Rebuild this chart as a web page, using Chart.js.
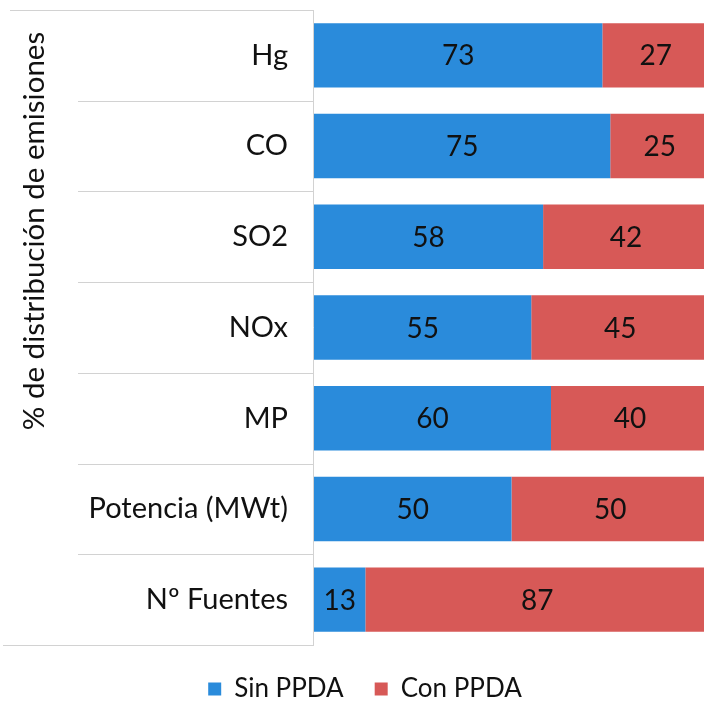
<!DOCTYPE html>
<html>
<head>
<meta charset="utf-8">
<script src="https://cdn.jsdelivr.net/npm/chart.js@4.4.1/dist/chart.umd.min.js"></script>
<style>
    html, body { margin: 0; padding: 0; background: #ffffff; overflow: hidden; }
    #wrap { width: 730px; height: 712px; }
</style>
</head>
<body>
<div id="wrap"><canvas id="chart" width="730" height="712"></canvas></div>
<script>
// 카테고리와 시리즈 값
const categories = ['Hg', 'CO', 'SO2', 'NOx', 'MP', 'Potencia (MWt)', 'Nº Fuentes'];
const sinPPDA = [73, 75, 58, 55, 60, 50, 13];
const conPPDA = [27, 25, 42, 45, 40, 50, 87];
const seriesNames = ['Sin PPDA', 'Con PPDA'];
const axisTitle = '% de distribución de emisiones';

const FONT = 'Lato, "Open Sans", sans-serif';

// 막대 안에 값을 적는 플러그인
const barLabels = {
    id: 'barLabels',
    afterDatasetsDraw(chart) {
        const ctx = chart.ctx;
        ctx.save();
        ctx.font = '28px ' + FONT;
        ctx.fillStyle = '#111111';
        ctx.textAlign = 'center';
        ctx.textBaseline = 'middle';
        chart.data.datasets.forEach((ds, i) => {
            chart.getDatasetMeta(i).data.forEach((bar, j) => {
                const cx = (bar.x + bar.base) / 2;
                ctx.fillText(String(ds.data[j]), cx, bar.y + 1);
            });
        });
        ctx.restore();
    }
};

// 카테고리 구분선, 축선, 세로 축 제목
const frame = {
    id: 'frame',
    afterDraw(chart) {
        const ctx = chart.ctx;
        const area = chart.chartArea;
        const n = categories.length;
        const step = (area.bottom - area.top) / n;
        ctx.save();
        ctx.strokeStyle = '#d2d2d2';
        ctx.lineWidth = 1;
        for (let k = 0; k <= n; k++) {
            const y = Math.round(area.top + k * step) + 0.5;
            const x0 = k === 0 ? 10 : (k === n ? 3 : 78);
            ctx.beginPath();
            ctx.moveTo(x0, y);
            ctx.lineTo(area.left, y);
            ctx.stroke();
        }
        ctx.beginPath();
        ctx.moveTo(area.left - 0.5, area.top);
        ctx.lineTo(area.left - 0.5, area.bottom);
        ctx.stroke();

        ctx.translate(34, 231);
        ctx.rotate(-Math.PI / 2);
        ctx.font = '29.5px ' + FONT;
        ctx.fillStyle = '#111111';
        ctx.textAlign = 'center';
        ctx.textBaseline = 'middle';
        ctx.fillText(axisTitle, 0, 0);
        ctx.restore();
    }
};

new Chart(document.getElementById('chart').getContext('2d'), {
    type: 'bar',
    data: {
        labels: categories,
        datasets: [
            { label: seriesNames[0], data: sinPPDA, backgroundColor: '#2a8bdb' },
            { label: seriesNames[1], data: conPPDA, backgroundColor: '#d75957' }
        ]
    },
    options: {
        indexAxis: 'y',
        responsive: false,
        animation: false,
        layout: { padding: { top: 10, left: 21, right: 21, bottom: 0 } },
        datasets: { bar: { categoryPercentage: 1, barPercentage: 0.71 } },
        plugins: {
            legend: {
                position: 'bottom',
                labels: {
                    boxWidth: 13,
                    boxHeight: 13,
                    padding: 31,
                    color: '#111111',
                    font: { family: FONT, size: 26 }
                }
            },
            tooltip: { enabled: false }
        },
        scales: {
            x: { stacked: true, min: 0, max: 100, display: false },
            y: {
                stacked: true,
                grid: { display: false, drawTicks: false },
                border: { display: false },
                ticks: { padding: 26, color: '#111111', font: { family: FONT, size: 29 } },
                afterFit(scale) {
                    scale.width = 293;
                    scale.paddingTop = 0;
                    scale.paddingBottom = 0;
                }
            }
        }
    },
    plugins: [barLabels, frame]
});
</script>
</body>
</html>
